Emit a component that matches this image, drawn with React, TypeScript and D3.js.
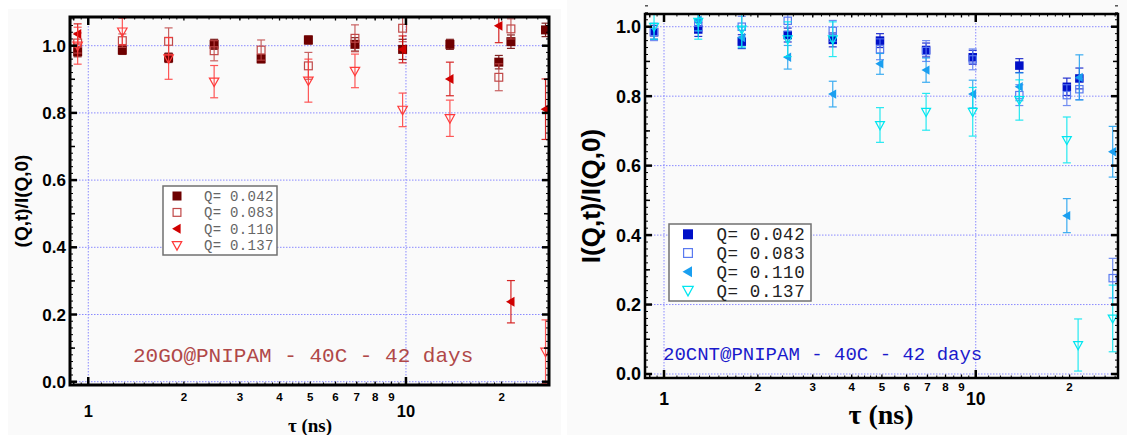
import * as d3 from 'd3';

// [tau (ns), I(Q,t)/I(Q,0), error]
type Pt = [number, number, number];

// ---- left panel: 20GO@PNIPAM ----
const goQ042: Pt[] = [
  [0.926, 0.982, 0.015], [1.28, 0.987, 0.013], [1.79, 0.964, 0.014], [2.49, 1.004, 0.015],
  [3.5, 0.961, 0.012], [4.93, 1.017, 0.012], [6.91, 1.004, 0.02], [9.76, 0.989, 0.03],
  [13.75, 1.004, 0.015], [19.6, 0.951, 0.02], [21.4, 1.012, 0.02], [27.5, 1.047, 0.02],
];
const goQ083: Pt[] = [
  [0.926, 1.008, 0.03], [1.28, 1.015, 0.02], [1.79, 1.013, 0.04], [2.49, 0.985, 0.03],
  [3.5, 0.987, 0.03], [4.93, 0.94, 0.04], [6.91, 1.022, 0.04], [9.76, 1.052, 0.04],
  [19.6, 0.906, 0.04], [21.4, 1.05, 0.03],
];
const goQ110: Pt[] = [
  [0.926, 1.035, 0.03], [9.76, 0.989, 0.04], [13.75, 0.901, 0.05], [19.6, 1.059, 0.05],
  [21.4, 0.238, 0.063], [27.5, 0.811, 0.09],
];
const goQ137: Pt[] = [
  [0.926, 1.0, 0.055], [1.28, 1.042, 0.04], [1.79, 0.962, 0.062], [2.49, 0.893, 0.048],
  [4.93, 0.896, 0.064], [6.91, 0.925, 0.05], [9.76, 0.809, 0.05], [13.75, 0.784, 0.054],
  [27.5, 0.089, 0.095],
];

// ---- right panel: 20CNT@PNIPAM ----
const cntQ042: Pt[] = [
  [0.929, 0.984, 0.02], [1.288, 0.992, 0.02], [1.776, 0.957, 0.02], [2.494, 0.976, 0.02],
  [3.478, 0.962, 0.02], [4.93, 0.96, 0.02], [6.93, 0.933, 0.02], [9.78, 0.912, 0.02],
  [13.8, 0.888, 0.02], [19.6, 0.827, 0.025], [21.5, 0.851, 0.03],
];
const cntQ083: Pt[] = [
  [0.929, 0.985, 0.025], [1.288, 1.012, 0.025], [1.776, 1.0, 0.03], [2.494, 1.017, 0.03],
  [3.478, 0.988, 0.03], [4.93, 0.935, 0.03], [6.93, 0.93, 0.03], [9.78, 0.906, 0.03],
  [13.8, 0.803, 0.03], [19.6, 0.803, 0.03], [21.5, 0.82, 0.03], [27.5, 0.276, 0.057],
];
const cntQ110: Pt[] = [
  [1.288, 1.019, 0.03], [1.776, 0.969, 0.03], [2.494, 0.912, 0.034], [3.478, 0.806, 0.037],
  [4.93, 0.893, 0.03], [6.93, 0.875, 0.035], [9.78, 0.806, 0.04], [13.8, 0.827, 0.04],
  [19.6, 0.456, 0.049], [21.5, 0.854, 0.065], [27.5, 0.64, 0.073],
];
const cntQ137: Pt[] = [
  [0.929, 1.0, 0.036], [1.288, 1.014, 0.05], [1.776, 0.992, 0.05], [2.494, 0.964, 0.05],
  [3.478, 0.964, 0.05], [4.93, 0.717, 0.05], [6.93, 0.755, 0.053], [9.78, 0.755, 0.07],
  [13.8, 0.789, 0.058], [19.6, 0.674, 0.066], [21.3, 0.0835, 0.075], [27.5, 0.16, 0.096],
];

const qLabels = ['Q= 0.042', 'Q= 0.083', 'Q= 0.110', 'Q= 0.137'];
const shapes = ['sq', 'osq', 'ltri', 'dtri'];
const goColors = ['#6e0000', '#c04848', '#d00000', '#ff3a3a'];
const cntColors = ['#0010c8', '#5a7af0', '#1a9ff0', '#00e6f0'];
const yTicks = [0, 0.2, 0.4, 0.6, 0.8, 1.0];
const xSmallLabels = [2, 3, 4, 5, 6, 7, 8, 9, 20];
const xBigLabels = [1, 10];

function Marker({ shape, x, y, color, s }) {
  const h = s / 2;
  if (shape === 'sq') return <rect x={x - h} y={y - h} width={s} height={s} fill={color} />;
  if (shape === 'osq')
    return <rect x={x - h + 0.6} y={y - h + 0.6} width={s - 1.2} height={s - 1.2} fill="none" stroke={color} strokeWidth={1.2} />;
  if (shape === 'ltri')
    return <path d={`M${x - h * 1.1},${y}L${x + h * 0.8},${y - h * 1.1}L${x + h * 0.8},${y + h * 1.1}Z`} fill={color} />;
  return <path d={`M${x - h * 1.05},${y - h * 0.8}L${x + h * 1.05},${y - h * 0.8}L${x},${y + h * 1.1}Z`} fill="none" stroke={color} strokeWidth={1.2} />;
}

function Panel({ id, cfg, series, colors }) {
  const { x0, x1, y0, y1, xd, yd } = cfg;
  const x = d3.scaleLog().domain(xd).range([x0, x1]);
  const y = d3.scaleLinear().domain(yd).range([y1, y0]);

  // log minor ticks
  const xMinor: number[] = [];
  [0.1, 1, 10].forEach(dec => {
    d3.range(1.1, 2, 0.1).forEach(m => xMinor.push(m * dec));
    d3.range(2.2, 5, 0.2).forEach(m => xMinor.push(m * dec));
    d3.range(5.5, 10, 0.5).forEach(m => xMinor.push(m * dec));
  });
  const xMid = [0.9, 2, 3, 4, 5, 6, 7, 8, 9, 20];
  const yMinor = d3.range(0, 1.09, 0.02);
  const yMid = d3.range(0.1, 1.09, 0.2);
  const inX = (v: number) => v >= xd[0] && v <= xd[1];

  const ticks: JSX.Element[] = [];
  const addX = (v: number, len: number, w: number, k: string) => {
    if (!inX(v)) return;
    ticks.push(<line key={'b' + k} x1={x(v)} x2={x(v)} y1={y1} y2={y1 - len} stroke="#000" strokeWidth={w} />);
    ticks.push(<line key={'t' + k} x1={x(v)} x2={x(v)} y1={y0} y2={y0 + len} stroke="#000" strokeWidth={w} />);
  };
  const addY = (v: number, len: number, w: number, k: string) => {
    ticks.push(<line key={'l' + k} x1={x0} x2={x0 + len} y1={y(v)} y2={y(v)} stroke="#000" strokeWidth={w} />);
    ticks.push(<line key={'r' + k} x1={x1} x2={x1 - len} y1={y(v)} y2={y(v)} stroke="#000" strokeWidth={w} />);
  };
  xMinor.forEach((v, i) => addX(v, 2.5, 1, 'm' + i));
  xMid.forEach((v, i) => addX(v, 3.5, 1.3, 'd' + i));
  xBigLabels.forEach((v, i) => addX(v, 8, 2.5, 'M' + i));
  yMinor.forEach((v, i) => addY(v, 3, 1, 'm' + i));
  yMid.forEach((v, i) => addY(v, 5, 1.5, 'd' + i));
  yTicks.forEach((v, i) => addY(v, 7, 2.5, 'M' + i));

  const cap = cfg.cap;
  return (
    <g>
      <rect x={cfg.bg[0]} y={cfg.bg[1]} width={cfg.bg[2]} height={cfg.bg[3]} fill="#fafafa" />
      <defs>
        <clipPath id={id}>
          <rect x={x0} y={y0} width={x1 - x0} height={y1 - y0} />
        </clipPath>
      </defs>
      {/* grid */}
      {yTicks.map(v => (
        <line key={'gy' + v} x1={x0} x2={x1} y1={y(v)} y2={y(v)} stroke="#8a8aff" strokeWidth={1} strokeDasharray="1.5,1.5" />
      ))}
      {xBigLabels.map(v => (
        <line key={'gx' + v} x1={x(v)} x2={x(v)} y1={y0} y2={y1} stroke="#8a8aff" strokeWidth={1} strokeDasharray="1.5,1.5" />
      ))}
      {/* data */}
      <g clipPath={`url(#${id})`}>
        {series.map((pts: Pt[], si: number) => (
          <g key={si}>
            {pts.map((p, i) => {
              const px = x(p[0]);
              return (
                <g key={i} stroke={colors[si]} strokeWidth={1.2} opacity={0.85}>
                  <line x1={px} x2={px} y1={y(p[1] - p[2])} y2={y(p[1] + p[2])} />
                  <line x1={px - cap} x2={px + cap} y1={y(p[1] - p[2])} y2={y(p[1] - p[2])} />
                  <line x1={px - cap} x2={px + cap} y1={y(p[1] + p[2])} y2={y(p[1] + p[2])} />
                </g>
              );
            })}
            {pts.map((p, i) => (
              <Marker key={'m' + i} shape={shapes[si]} x={x(p[0])} y={y(p[1])} color={colors[si]} s={cfg.ms} />
            ))}
          </g>
        ))}
      </g>
      {ticks}
      {/* frame */}
      <rect x={x0} y={y0} width={x1 - x0} height={y1 - y0} fill="none" stroke="#000" strokeWidth={cfg.fw} />
      {/* y tick labels */}
      {yTicks.map(v => (
        <text key={'yl' + v} x={x0 - cfg.ylPad} y={y(v)} dy="0.36em" textAnchor="end"
          fontFamily="Liberation Sans, Arial, sans-serif" fontWeight="bold" fontSize={cfg.ylFont}>
          {v.toFixed(1)}
        </text>
      ))}
      {/* x tick labels */}
      {xSmallLabels.filter(inX).map(v => (
        <text key={'xs' + v} x={x(v)} y={cfg.xsY} dy="0.36em" textAnchor="middle"
          fontFamily="Liberation Sans, Arial, sans-serif" fontWeight="bold" fontSize={cfg.xsFont}>
          {v >= 10 ? v / 10 : v}
        </text>
      ))}
      {xBigLabels.map(v => (
        <text key={'xb' + v} x={x(v)} y={cfg.xbY} dy="0.36em" textAnchor="middle"
          fontFamily="Liberation Sans, Arial, sans-serif" fontWeight="bold" fontSize={cfg.xbFont}>
          {v}
        </text>
      ))}
      {/* axis titles */}
      <text x={cfg.xt[0]} y={cfg.xt[1]} textAnchor="middle" fontFamily="Liberation Serif, Times New Roman, serif"
        fontWeight="bold" fontSize={cfg.xt[2]}>τ (ns)</text>
      <text transform={`translate(${cfg.yt[0]},${cfg.yt[1]}) rotate(-90)`} textAnchor="middle" dy="0.36em"
        fontFamily="Liberation Sans, Arial, sans-serif" fontWeight="bold" fontSize={cfg.yt[2]}>{cfg.ytText}</text>
      {/* annotation */}
      <text x={cfg.ann[0]} y={cfg.ann[1]} fontFamily="Liberation Mono, Courier New, monospace" fontSize={cfg.ann[2]}
        fill={cfg.annColor}>{cfg.annText}</text>
      {/* legend */}
      <rect x={cfg.lg[0]} y={cfg.lg[1]} width={cfg.lg[2]} height={cfg.lg[3]} fill="#fff" stroke="#707070" strokeWidth={1.5} />
      {qLabels.map((q, i) => {
        const ly = cfg.lgRow0 + i * cfg.lgStep;
        return (
          <g key={q}>
            <Marker shape={shapes[i]} x={cfg.lgMx} y={ly} color={colors[i]} s={cfg.lgMs} />
            <text x={cfg.lgTx} y={ly} dy="0.35em" fontFamily="Liberation Mono, Courier New, monospace"
              fontSize={cfg.lgFont} letterSpacing={cfg.lgLs} fill={cfg.lgColor}>{q}</text>
          </g>
        );
      })}
    </g>
  );
}

const goCfg = {
  x0: 70, x1: 549, y0: 17, y1: 385, xd: [0.876, 28.2], yd: [-0.0098, 1.0854],
  bg: [8, 9, 553, 426], ms: 9, cap: 4, fw: 3,
  ylPad: 4, ylFont: 17, xsY: 397, xsFont: 11.5, xbY: 411, xbFont: 16.5,
  xt: [310, 432, 19], yt: [21.5, 201, 19], ytText: '(Q,t)/I(Q,0)',
  ann: [133, 362, 21], annColor: '#b04848', annText: '20GO@PNIPAM - 40C - 42 days',
  lg: [163, 186, 114, 69], lgRow0: 196, lgStep: 16.4, lgMx: 177, lgTx: 204, lgFont: 14, lgLs: 0.3,
  lgMs: 9, lgColor: '#666',
};

const cntCfg = {
  x0: 645, x1: 1118, y0: 14, y1: 378, xd: [0.869, 28.6], yd: [-0.0115, 1.0366],
  bg: [567, 0, 560, 435], ms: 8.5, cap: 4, fw: 2.5,
  ylPad: 4, ylFont: 18, xsY: 387, xsFont: 11.5, xbY: 399, xbFont: 17.5,
  xt: [881, 424, 28], yt: [591, 196, 26], ytText: 'I(Q,t)/I(Q,0)',
  ann: [663, 360, 19], annColor: '#1a1acc', annText: '20CNT@PNIPAM - 40C - 42 days',
  lg: [669, 224, 142, 77], lgRow0: 234.3, lgStep: 18.7, lgMx: 688, lgTx: 716.5, lgFont: 17.5, lgLs: 0.6,
  lgMs: 10, lgColor: '#222',
};

export default function App() {
  return (
    <svg width={1147} height={435} style={{ position: 'absolute', left: 0, top: 0, background: '#fff' }}>
      <Panel id="clipGO" cfg={goCfg} series={[goQ042, goQ083, goQ110, goQ137]} colors={goColors} />
      <Panel id="clipCNT" cfg={cntCfg} series={[cntQ042, cntQ083, cntQ110, cntQ137]} colors={cntColors} />
    </svg>
  );
}
